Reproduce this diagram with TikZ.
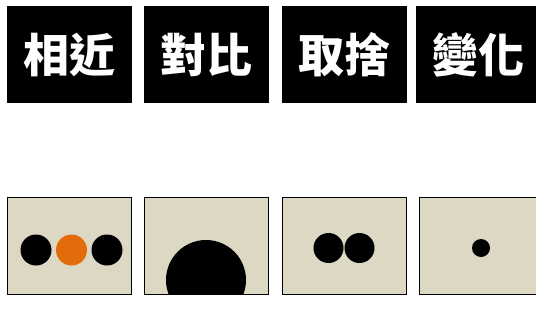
\documentclass[tikz,border=0pt]{standalone}
\usepackage{fontspec}
\newfontfamily\cjk{Noto Sans CJK TC}
\definecolor{beige}{RGB}{220,216,196}
\definecolor{orng}{RGB}{227,108,10}
\begin{document}
\begin{tikzpicture}[x=1pt,y=-1pt,
  titlebox/.style={fill=black,text=white,minimum width=125pt,minimum height=97pt,inner sep=0pt,outer sep=0pt,anchor=north west,font=\cjk\bfseries\fontsize{46}{46}\selectfont},
  panel/.style={fill=beige,draw=black,line width=1.8pt,minimum width=124pt,minimum height=97pt,inner sep=0pt,outer sep=0pt,anchor=north west},
  dot/.style={circle,fill=black,inner sep=0pt,minimum size=#1}]
\useasboundingbox (0,0) rectangle (536,327);
\fill[white] (0,0) rectangle (536,327);
% titles
\node[titlebox] (t1) at (7,6) {相近};
\node[titlebox] (t2) at (144,6) {對比};
\node[titlebox] (t3) at (282,6) {取捨};
\node[titlebox] (t4) at (415.5,6) {變化};
% panels
\node[panel] (p1) at (7.5,197.5) {};
\node[panel,draw=none] (p2) at (144.5,197.5) {};
\node[panel] (p3) at (282.5,197.5) {};
\node[panel] (p4) at (419.5,197.5) {};
% panel 1
\node[dot=31pt] (c1) at (36,250) {};
\node[dot=31pt,fill=orng] (c2) at (71.5,250) {};
\node[dot=31pt] (c3) at (107,250) {};
% panel 2
\begin{scope}
\clip (p2.north west) rectangle (p2.south east);
\node[dot=80pt] (c4) at (206,280) {};
\end{scope}
\draw[black,line width=1.8pt] (p2.north west) rectangle (p2.south east);
% panel 3
\node[dot=30pt] (c5) at (328.5,248) {};
\node[dot=30pt] (c6) at (359.5,248) {};
% panel 4
\node[dot=18pt] (c7) at (481,248) {};
\end{tikzpicture}
\end{document}
